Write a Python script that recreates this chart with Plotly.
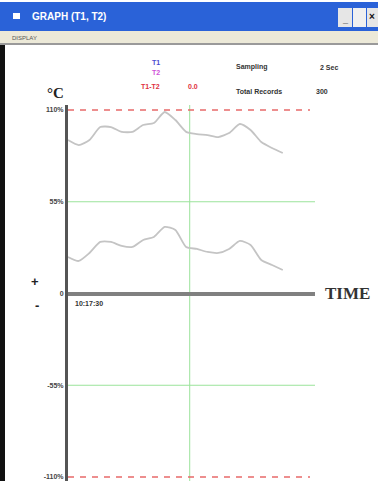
import plotly.graph_objects as go

# ---- data ----
records = [0, 15, 30, 45, 60, 75, 90, 105, 120, 135, 150, 165, 180, 195, 210, 225, 240, 255, 270, 285, 300]
t1 = [92.0, 89.0, 92.0, 99.8, 99.8, 96.9, 96.9, 101.0, 102.2, 108.8, 104.0, 96.9, 95.6, 95.0, 93.8, 96.2, 101.6, 98.0, 90.8, 87.2, 84.2]
t2 = [21.9, 19.5, 24.3, 30.9, 30.9, 28.5, 27.9, 32.1, 33.9, 39.9, 38.1, 27.9, 26.7, 24.9, 24.3, 26.7, 31.5, 29.1, 20.1, 17.1, 14.1]
tick_vals = [110, 55, 0, -55, -110]
tick_text = ["110%", "55%", "0", "-55%", "-110%"]
limit_vals = [110, -110]
grid_vals = [55, -55]
cursor_x = 170

W, H = 378, 481
def px(x):
    return x / W
def py(y):
    return 1 - y / H

fig = go.Figure()
for vals in (t1, t2):
    fig.add_trace(go.Scatter(x=records, y=vals, mode="lines",
                             line=dict(color="#c4c4c4", width=1.8, shape="spline", smoothing=0.6),
                             showlegend=False, hoverinfo="skip"))

for v in grid_vals:
    fig.add_shape(type="line", xref="x", yref="y", x0=0, x1=345, y0=v, y1=v,
                  line=dict(color="#9be39b", width=1), layer="below")
for v in limit_vals:
    fig.add_shape(type="line", xref="x", yref="y", x0=0, x1=338, y0=v, y1=v,
                  line=dict(color="#e86a6a", width=1.5, dash="6px,6px"), layer="below")
fig.add_shape(type="line", xref="x", yref="paper", x0=cursor_x, x1=cursor_x, y0=0, y1=py(105),
              line=dict(color="#9be39b", width=1), layer="below")

# window chrome
shapes = [
    dict(type="rect", xref="paper", yref="paper", x0=0, x1=1, y0=py(31), y1=py(2),
         fillcolor="#2a62d8", line=dict(width=0)),
    dict(type="rect", xref="paper", yref="paper", x0=0, x1=1, y0=py(43), y1=py(31),
         fillcolor="#ece9d8", line=dict(width=0)),
    dict(type="line", xref="paper", yref="paper", x0=0, x1=1, y0=py(44), y1=py(44),
         line=dict(color="#9a9a9a", width=2)),
    dict(type="rect", xref="paper", yref="paper", x0=0, x1=px(5), y0=0, y1=py(45),
         fillcolor="#111111", line=dict(width=0)),
    dict(type="rect", xref="paper", yref="paper", x0=px(338), x1=px(352), y0=py(27), y1=py(8),
         fillcolor="#e6e6e6", line=dict(width=0)),
    dict(type="rect", xref="paper", yref="paper", x0=px(353), x1=px(366), y0=py(27), y1=py(8),
         fillcolor="#f0f0f0", line=dict(width=0)),
    dict(type="rect", xref="paper", yref="paper", x0=px(367), x1=1, y0=py(27), y1=py(8),
         fillcolor="#e6e6e6", line=dict(width=0)),
    dict(type="rect", xref="paper", yref="paper", x0=px(13), x1=px(20), y0=py(19), y1=py(13),
         fillcolor="#ffffff", line=dict(width=0)),
]
for s in shapes:
    fig.add_shape(**s)

sans = "Liberation Sans"
serif = "Liberation Serif"
anns = [
    dict(x=px(30), y=py(16), text="<b>GRAPH (T1, T2)</b>", font=dict(color="white", size=10, family=sans), xanchor="left"),
    dict(x=px(345), y=py(20), text="<b>_</b>", font=dict(color="#222", size=9, family=sans), xanchor="center"),
    dict(x=px(372), y=py(17), text="<b>×</b>", font=dict(color="#111", size=10, family=sans), xanchor="center"),
    dict(x=px(10), y=py(38), text="DISPLAY", font=dict(color="#555", size=6, family=sans), xanchor="left"),
    dict(x=px(156), y=py(62), text="<b>T1</b>", font=dict(color="#4a4ad0", size=7, family=sans), xanchor="center"),
    dict(x=px(156), y=py(73), text="<b>T2</b>", font=dict(color="#d050d8", size=7, family=sans), xanchor="center"),
    dict(x=px(150), y=py(86), text="<b>T1-T2</b>", font=dict(color="#e03040", size=7, family=sans), xanchor="center"),
    dict(x=px(193), y=py(86), text="<b>0.0</b>", font=dict(color="#e03040", size=7, family=sans), xanchor="center"),
    dict(x=px(234), y=py(67), text="<b>Sampling</b>", font=dict(color="#333", size=7, family=sans), xanchor="left"),
    dict(x=px(318), y=py(67), text="<b>2 Sec</b>", font=dict(color="#333", size=7, family=sans), xanchor="left"),
    dict(x=px(234), y=py(91), text="<b>Total Records</b>", font=dict(color="#333", size=7, family=sans), xanchor="left"),
    dict(x=px(314), y=py(91), text="<b>300</b>", font=dict(color="#333", size=7, family=sans), xanchor="left"),
    dict(x=px(55), y=py(93), text="<b>°C</b>", font=dict(color="#222", size=15, family=serif), xanchor="center"),
    dict(x=px(35), y=py(281), text="<b>+</b>", font=dict(color="#222", size=13, family=sans), xanchor="center"),
    dict(x=px(37), y=py(305), text="<b>-</b>", font=dict(color="#222", size=13, family=sans), xanchor="center"),
    dict(x=px(73), y=py(303), text="<b>10:17:30</b>", font=dict(color="#333", size=7, family=sans), xanchor="left"),
    dict(x=px(323), y=py(293), text="<b>TIME</b>", font=dict(color="#333", size=17, family=serif), xanchor="left"),
]
for a in anns:
    fig.add_annotation(xref="paper", yref="paper", showarrow=False, yanchor="middle", **a)

fig.update_layout(
    width=W, height=H, margin=dict(l=0, r=0, t=0, b=0),
    paper_bgcolor="white", plot_bgcolor="white",
    xaxis=dict(domain=[px(68), px(315)], range=[0, 345], showgrid=False, zeroline=False,
               showticklabels=False, showline=False, fixedrange=True),
    yaxis=dict(domain=[0, py(105)], range=[-112.4, 113.0], showgrid=False,
               zeroline=True, zerolinecolor="#808080", zerolinewidth=4,
               showline=True, linecolor="#555555", linewidth=3,
               tickmode="array", tickvals=tick_vals,
               ticktext=["<b>%s</b>" % t for t in tick_text],
               ticks="", tickfont=dict(size=7, color="#444", family=sans), fixedrange=True),
)

fig.write_html("out.html", config={"displayModeBar": False},
               post_script="document.body.style.margin='0';document.body.style.overflow='hidden';")
